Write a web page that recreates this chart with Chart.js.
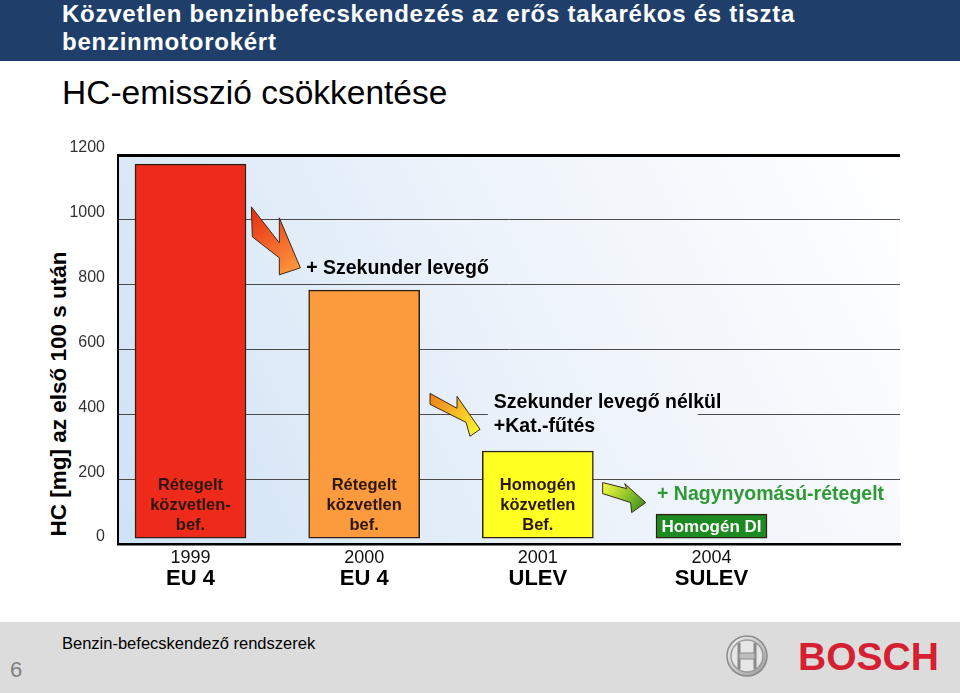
<!DOCTYPE html>
<html><head><meta charset="utf-8">
<script src="https://cdn.jsdelivr.net/npm/chart.js@4"></script>
<style>
html,body{margin:0;padding:0;background:#fff;}
#page{position:relative;width:960px;height:693px;overflow:hidden;font-family:"Liberation Sans",Arial,sans-serif;}
#band{position:absolute;left:0;top:0;width:960px;height:61px;background:#1f3f6a;}
#title{position:absolute;left:62px;top:0;color:#fff;font-weight:bold;font-size:24px;line-height:28px;letter-spacing:0.75px;white-space:nowrap;}
#subtitle{position:absolute;left:62px;top:73px;color:#000;font-size:33.5px;line-height:40px;white-space:nowrap;}
#ytitle{position:absolute;left:-91px;top:379px;width:300px;height:30px;line-height:30px;text-align:center;font-weight:bold;font-size:22.5px;color:#000;transform:rotate(-90deg);white-space:nowrap;}
#footer{position:absolute;left:0;top:622px;width:960px;height:71px;background:#dcdcdc;}
#ftext{position:absolute;left:62px;top:633px;font-size:16.5px;line-height:20px;color:#000;white-space:nowrap;}
#pnum{position:absolute;left:10px;top:657px;font-size:22px;line-height:26px;color:#808080;}
#bosch{position:absolute;left:798px;top:637px;font-size:39px;line-height:39px;font-weight:bold;color:#d42030;white-space:nowrap;}
#logo{position:absolute;left:725px;top:634px;}
canvas{position:absolute;left:0;top:0;}
</style></head>
<body>
<div id="page">
  <div id="band"></div>
  <div id="title">Közvetlen benzinbefecskendezés az erős takarékos és tiszta<br>benzinmotorokért</div>
  <div id="subtitle">HC-emisszió csökkentése</div>
  <div id="ytitle">HC [mg] az első 100 s után</div>
  <div id="footer"></div>
  <div id="ftext">Benzin-befecskendező rendszerek</div>
  <div id="pnum">6</div>
  <svg id="logo" width="44" height="44" viewBox="0 0 44 44">
    <defs><linearGradient id="lg" x1="0" y1="0" x2="1" y2="1"><stop offset="0" stop-color="#f4f4f4"/><stop offset="1" stop-color="#9a9a9a"/></linearGradient></defs>
    <circle cx="22" cy="22" r="20" fill="url(#lg)" stroke="#8a8a8a" stroke-width="1.5"/>
    <circle cx="22" cy="22" r="16" fill="#e6e6e6" stroke="#9a9a9a" stroke-width="1.5"/>
    <path d="M14 9 L14 35 M30 9 L30 35" stroke="#8a8a8a" stroke-width="3" fill="none"/>
    <rect x="14" y="19" width="16" height="6" fill="#bdbdbd" stroke="#8a8a8a" stroke-width="1"/>
  </svg>
  <div id="bosch">BOSCH</div>
  <canvas id="c" width="960" height="693"></canvas>
</div>
<script>
// ---- data ----
const years = ['1999', '2000', '2001', '2004'];
const standards = ['EU 4', 'EU 4', 'ULEV', 'SULEV'];
const hcBase = [18, 18, 18, 18];
const hcValues = [1172, 783, 287, 92];
const barColors = ['#ee2b1b', '#fc9b3d', '#ffff22', '#1d8a22'];
const barLabels = [
  ['Rétegelt', 'közvetlen-', 'bef.'],
  ['Rétegelt', 'közvetlen', 'bef.'],
  ['Homogén', 'közvetlen', 'Bef.'],
  ['Homogén DI']
];
const yTickValues = [0, 200, 400, 600, 800, 1000, 1200];
const noteSecondaryAir = '+ Szekunder levegő';
const noteNoAir = ['Szekunder levegő nélkül', '+Kat.-fűtés'];
const noteHighPressure = '+ Nagynyomású-rétegelt';

Chart.defaults.font.family = '"Liberation Sans", Arial, sans-serif';

function plotGradient(ctx, a) {
  const g = ctx.createLinearGradient(a.left, a.bottom, a.right, a.top);
  g.addColorStop(0, '#cfe2f5');
  g.addColorStop(0.5, '#ebf2fa');
  g.addColorStop(1, '#ffffff');
  return g;
}

function drawArrow(ctx, pts, ax, ay, c0, c1) {
  const P = pts.map(p => [ax + p[0], ay + p[1]]);
  const xs = P.map(p => p[0]), ys = P.map(p => p[1]);
  const g = ctx.createLinearGradient(Math.min(...xs), Math.min(...ys), Math.max(...xs), Math.max(...ys));
  g.addColorStop(0, c0); g.addColorStop(1, c1);
  ctx.beginPath();
  P.forEach((p, i) => i ? ctx.lineTo(p[0], p[1]) : ctx.moveTo(p[0], p[1]));
  ctx.closePath();
  ctx.fillStyle = g; ctx.fill();
  ctx.lineWidth = 1; ctx.strokeStyle = '#3a2a1a'; ctx.stroke();
}

const deco = {
  id: 'deco',
  beforeDraw(chart) {
    const {ctx, chartArea: a} = chart;
    ctx.save();
    ctx.fillStyle = plotGradient(ctx, a);
    ctx.fillRect(a.left, a.top, a.right - a.left, a.bottom - a.top);
    ctx.restore();
  },
  afterDatasetsDraw(chart) {
    const {ctx, chartArea: a} = chart;
    const xs = chart.scales.x, ys = chart.scales.y;
    ctx.save();
    // labels inside bars
    barLabels.forEach((lines, i) => {
      const cx = xs.getPixelForValue(i);
      const base = ys.getPixelForValue(hcBase[i]);
      const top = ys.getPixelForValue(hcValues[i]);
      ctx.textAlign = 'center'; ctx.textBaseline = 'middle';
      if (lines.length === 1) {
        ctx.font = 'bold 17px "Liberation Sans", Arial, sans-serif';
        ctx.fillStyle = '#ffffff';
        ctx.fillText(lines[0], cx, (base + top) / 2 + 1);
      } else {
        ctx.font = 'bold 16.5px "Liberation Sans", Arial, sans-serif';
        ctx.fillStyle = '#2a160c';
        lines.forEach((t, k) => ctx.fillText(t, cx, base - 13 - (lines.length - 1 - k) * 20));
      }
    });
    // standard names under years
    ctx.font = 'bold 22px "Liberation Sans", Arial, sans-serif';
    ctx.fillStyle = '#000'; ctx.textAlign = 'center'; ctx.textBaseline = 'middle';
    standards.forEach((s, i) => ctx.fillText(s, xs.getPixelForValue(i), a.bottom + 35));

    // annotations
    ctx.textAlign = 'left';
    ctx.font = 'bold 19.5px "Liberation Sans", Arial, sans-serif';
    ctx.fillStyle = '#000';
    ctx.fillText(noteSecondaryAir, xs.getPixelForValue(1) - 58, ys.getPixelForValue(851));

    const nx = xs.getPixelForValue(2) - 50;
    ctx.fillStyle = plotGradient(ctx, a);
    ctx.fillRect(nx, ys.getPixelForValue(470), 210, ys.getPixelForValue(330) - ys.getPixelForValue(470));
    ctx.fillStyle = '#000';
    ctx.fillText(noteNoAir[0], nx + 6, ys.getPixelForValue(436));
    ctx.fillText(noteNoAir[1], nx + 6, ys.getPixelForValue(361));

    ctx.fillStyle = '#2f9a35';
    ctx.fillText(noteHighPressure, xs.getPixelForValue(3) - 54.5, ys.getPixelForValue(151));

    // arrows
    drawArrow(ctx, [[-26,-13],[2,23],[2,-2],[23,48],[2,55],[2,38],[-25,17]],
      xs.getPixelForValue(0.5), ys.getPixelForValue(1000), '#e62a12', '#ffa040');
    drawArrow(ctx, [[-21,-21],[6,-6],[6,-18],[29,15],[19,22],[15,8],[-21,-10]],
      xs.getPixelForValue(1.5), ys.getPixelForValue(400), '#f07a1a', '#ffff30');
    drawArrow(ctx, [[-22,-29],[2,-23],[0,-28],[21,-9],[7,1],[6,-9],[-22,-18]],
      xs.getPixelForValue(2.5), ys.getPixelForValue(100), '#ffff40', '#2a8a1a');
    ctx.restore();
  }
};

new Chart(document.getElementById('c'), {
  type: 'bar',
  data: {
    datasets: [{
      data: hcValues.map((v, i) => ({x: i, y: [hcBase[i], v]})),
      backgroundColor: barColors,
      borderColor: '#2e2014',
      borderWidth: 1.5,
      borderSkipped: false,
      barThickness: 111
    }]
  },
  options: {
    responsive: false,
    animation: false,
    devicePixelRatio: 1,
    layout: {padding: {top: 155, right: 60, bottom: 0, left: 0}},
    plugins: {legend: {display: false}, tooltip: {enabled: false}},
    scales: {
      x: {
        type: 'linear',
        offset: false,
        min: -0.4175,
        max: 4.0853,
        afterBuildTicks: s => { s.ticks = years.map((_, i) => ({value: i})); },
        afterFit: s => { s.height = 149; },
        grid: {display: false, drawTicks: false},
        border: {display: true, color: '#000', width: 2.5},
        ticks: {
          autoSkip: false, maxRotation: 0, padding: 3,
          font: {size: 18}, color: '#111',
          callback: v => years[v]
        }
      },
      y: {
        min: 0, max: 1200,
        afterBuildTicks: s => { s.ticks = yTickValues.map(v => ({value: v})); },
        afterFit: s => { s.width = 118; },
        grid: {
          drawTicks: false,
          color: c => c.tick.value === 1200 ? '#000' : '#4a4a4a',
          lineWidth: c => c.tick.value === 1200 ? 3 : (c.tick.value === 0 ? 0 : 1)
        },
        border: {display: true, color: '#000', width: 2},
        ticks: {padding: 13, labelOffset: -7, font: {size: 16}, color: '#333', callback: v => String(v)}
      }
    }
  },
  plugins: [deco]
});
</script>
</body></html>
